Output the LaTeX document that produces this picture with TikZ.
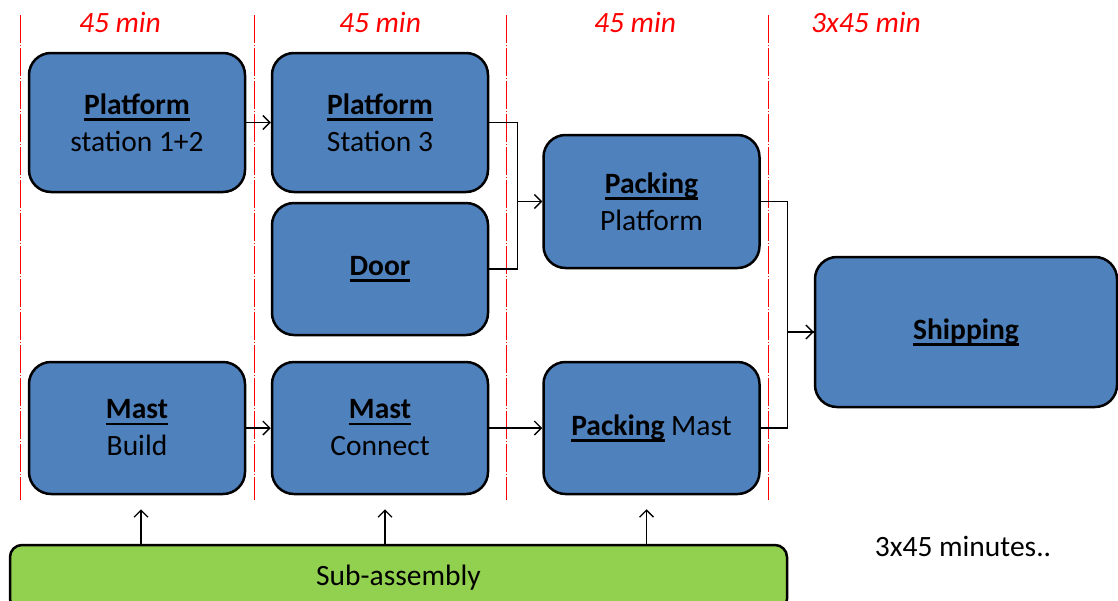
\documentclass[tikz,border=0pt]{standalone}
\usepackage{fontspec}
\setmainfont{Carlito}
\usetikzlibrary{arrows.meta, positioning}
\definecolor{stageblue}{HTML}{4F81BD}
\definecolor{subgreen}{HTML}{92D050}
\newcommand{\stagetitle}[1]{\setbox0\hbox{\textbf{#1}}\rlap{\rule[-6.5pt]{\wd0}{2.5pt}}\box0\relax}

\begin{document}
\begin{tikzpicture}[
  x=1pt, y=-1pt,
  stage/.style={draw, line width=2.5pt, rounded corners=22pt, fill=stageblue, minimum width=216pt, minimum height=134pt, align=center, inner sep=0pt, font=\fontsize{29.5}{37}\selectfont},
  subbar/.style={draw, line width=2.5pt, rounded corners=12pt, fill=subgreen, minimum width=777pt, minimum height=66pt, inner sep=0pt, font=\fontsize{29.5}{37}\selectfont},
  arrow/.style={-{Straight Barb[length=7pt, width=14pt]}, line width=1.3pt},
  link/.style={line width=1.3pt},
  timeline/.style={red, line width=0.8pt, dash pattern=on 28pt off 2pt on 1pt off 2pt},
  duration/.style={red, font=\fontsize{29.5}{37}\selectfont\itshape},
  note/.style={font=\fontsize{29.5}{37}\selectfont}
]
\useasboundingbox (0,0) rectangle (1118,600);

\foreach \x in {20,254,506,768}
  \draw[timeline] (\x,15) -- (\x,500);

\node[duration] (t1) at (120,22) {45 min};
\node[duration] (t2) at (380,22) {45 min};
\node[duration] (t3) at (635,22) {45 min};
\node[duration] (t4) at (866,22) {3x45 min};

\node[stage, minimum height=139pt] (P12) at (137,122.5) {\stagetitle{Platform}\\station 1+2};
\node[stage, minimum height=139pt] (P3) at (380,122.5) {\stagetitle{Platform}\\Station 3};
\node[stage, minimum height=132pt] (Door) at (380,269) {\stagetitle{Door}};
\node[stage, minimum height=133pt] (PP) at (651.5,201.5) {\stagetitle{Packing}\\Platform};
\node[stage, minimum width=302pt, minimum height=150pt] (Ship) at (966,332) {\stagetitle{Shipping}};
\node[stage, minimum height=132pt] (MB) at (137,428) {\stagetitle{Mast}\\Build};
\node[stage, minimum height=132pt] (MC) at (380,428) {\stagetitle{Mast}\\Connect};
\node[stage, minimum height=132pt] (PM) at (651.5,428) {\stagetitle{Packing} Mast};

\node[subbar] (Sub) at (398.5,578) {Sub-assembly};
\node[note] (Note) at (963,546) {3x45 minutes..};

\draw[arrow] (P12) -- (P3);
\draw[arrow] (MB) -- (MC);
\draw[arrow] (MC) -- (PM);
\draw[arrow] (P3.east) -- ++(28,0) |- (PP.west);
\draw[link] (Door.east) -- ++(28,0) |- (PP.west);
\draw[arrow] (PP.east) -- ++(27,0) |- (Ship.west);
\draw[link] (PM.east) -- ++(27,0) |- (Ship.west);

\draw[arrow] ([xshift=4pt]MB.south |- Sub.north) -- ([xshift=4pt, yshift=-14pt]MB.south);
\draw[arrow] ([xshift=5pt]MC.south |- Sub.north) -- ([xshift=5pt, yshift=-14pt]MC.south);
\draw[arrow] ([xshift=-5pt]PM.south |- Sub.north) -- ([xshift=-5pt, yshift=-14pt]PM.south);
\end{tikzpicture}
\end{document}
